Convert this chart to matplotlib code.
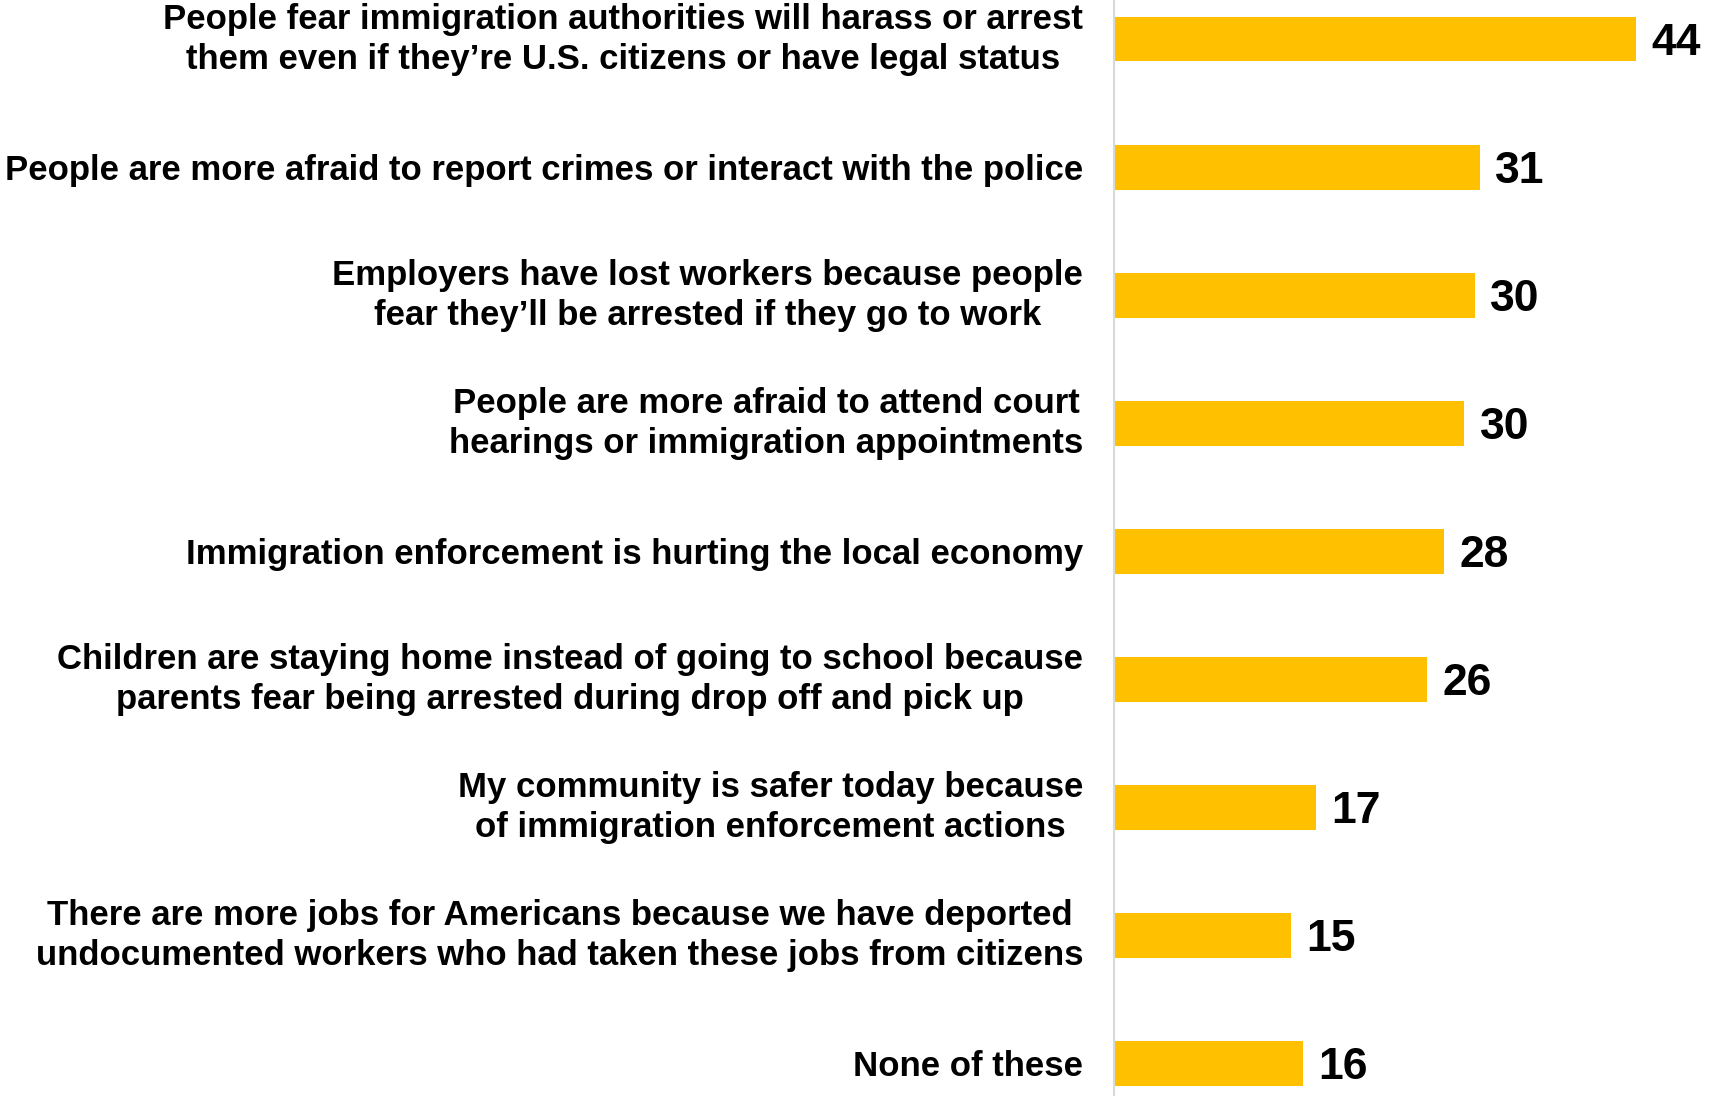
import matplotlib.pyplot as plt

plt.rcParams['font.family'] = ['Liberation Sans', 'DejaVu Sans']

labels = [
    "People fear immigration authorities will harass or arrest\nthem even if they\u2019re U.S. citizens or have legal status",
    "People are more afraid to report crimes or interact with the police",
    "Employers have lost workers because people\nfear they\u2019ll be arrested if they go to work",
    "People are more afraid to attend court\nhearings or immigration appointments",
    "Immigration enforcement is hurting the local economy",
    "Children are staying home instead of going to school because\nparents fear being arrested during drop off and pick up",
    "My community is safer today because\nof immigration enforcement actions",
    "There are more jobs for Americans because we have deported\nundocumented workers who had taken these jobs from citizens",
    "None of these",
]
# bar lengths (unrounded) and the rounded numbers shown
values = [44.2, 31.0, 30.6, 29.7, 28.0, 26.5, 17.1, 15.0, 16.0]
shown = [44, 31, 30, 30, 28, 26, 17, 15, 16]

fig = plt.figure(figsize=(17.16, 10.96), dpi=100)
ax = fig.add_axes([0.649, 0.0, 0.351, 1.0])

pos = list(range(len(values)))
ax.barh(pos, values, height=0.35, color='#FFC000')

for p, v, s in zip(pos, values, shown):
    ax.text(v + 1.3, p, str(s), va='center_baseline', ha='left',
            fontsize=32, fontweight='bold', color='black')

ax.set_yticks(pos)
ax.set_yticklabels(labels, fontsize=25, fontweight='bold')
for t in ax.get_yticklabels():
    t.set_multialignment('center')
    t.set_linespacing(1.27)
    if '\n' in t.get_text():
        t.set_verticalalignment('center')
ax.tick_params(axis='y', length=0, pad=22)
ax.tick_params(axis='x', bottom=False, labelbottom=False)

ax.set_ylim(8.254, -0.305)
ax.set_xlim(0, 51)

for s in ['top', 'right', 'bottom']:
    ax.spines[s].set_visible(False)
ax.spines['left'].set_color('#d9d9d9')
ax.spines['left'].set_linewidth(1.5)

fig.savefig('out.png', dpi=100)
